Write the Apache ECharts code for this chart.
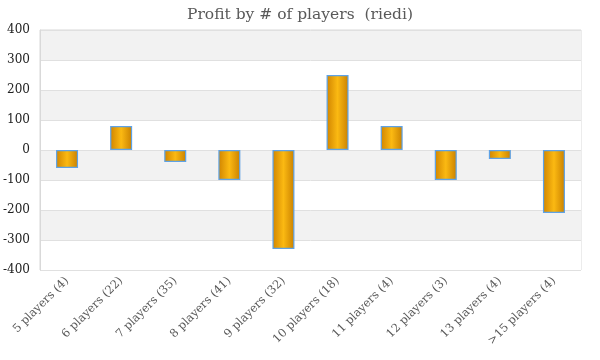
<!DOCTYPE html>
<html><head><meta charset="utf-8">
<script src="https://cdn.jsdelivr.net/npm/echarts@6/dist/echarts.min.js"></script>
<style>html,body{margin:0;padding:0;background:#fff}#c{width:600px;height:360px}</style>
</head><body><div id="c"></div>
<script>
const categories = ['5 players (4)','6 players (22)','7 players (35)','8 players (41)','9 players (32)','10 players (18)','11 players (4)','12 players (3)','13 players (4)','>15 players (4)'];
const profit = [-60, 80, -40, -100, -330, 250, 80, -100, -30, -210];
const yTicks = {min: -400, max: 400, interval: 100};

const chart = echarts.init(document.getElementById('c'));
const serif = '"DejaVu Serif", "Liberation Serif", serif';
chart.setOption({
  animation: false,
  title: {text: 'Profit by # of players  (riedi)', left: 'center', top: 2,
    textStyle: {fontFamily: serif, fontSize: 15.5, fontWeight: 'normal', color: '#595959'}},
  grid: {left: 40, right: 19, top: 30, bottom: 90, show: true, borderColor: '#d9d9d9', borderWidth: 1},
  xAxis: {type: 'category', data: categories,
    axisLine: {show: false}, axisTick: {show: false},
    axisLabel: {rotate: 45, interval: 0, margin: 9, fontFamily: serif, fontSize: 11.5, color: '#595959'}},
  yAxis: {type: 'value', min: yTicks.min, max: yTicks.max, interval: yTicks.interval,
    axisLine: {show: true, lineStyle: {color: '#d9d9d9'}}, axisTick: {show: false},
    axisLabel: {fontFamily: serif, fontSize: 12, color: '#222', margin: 10},
    splitLine: {lineStyle: {color: '#e0e0e0'}},
    splitArea: {show: true, areaStyle: {color: ['#ffffff', '#f2f2f2']}}},
  series: [{type: 'bar', data: profit, barWidth: 22,
    itemStyle: {
      borderColor: '#5ea2e6', borderWidth: 1.2,
      color: new echarts.graphic.LinearGradient(0, 0, 1, 0, [
        {offset: 0, color: '#d08400'},
        {offset: 0.5, color: '#fbb912'},
        {offset: 1, color: '#c98000'}
      ])
    }}]
});
</script></body></html>
